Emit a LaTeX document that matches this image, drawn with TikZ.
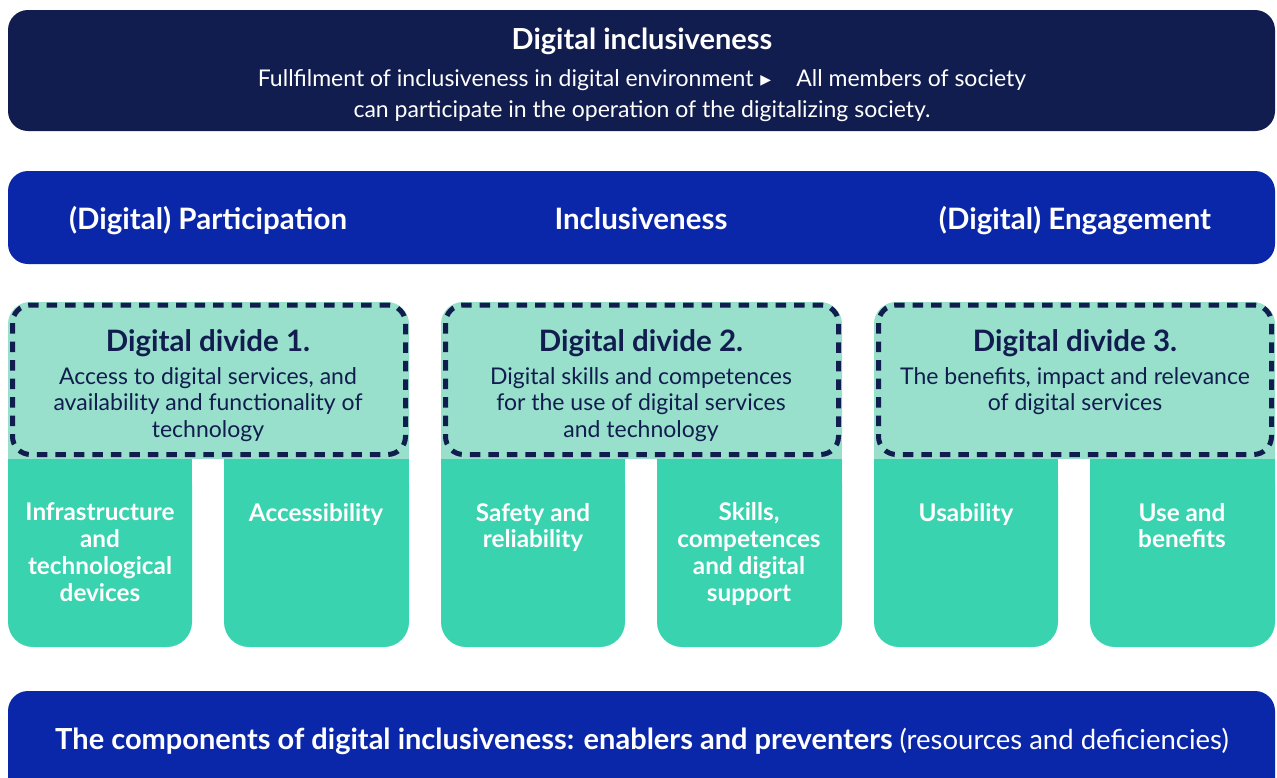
\documentclass[tikz,border=0pt]{standalone}
\usepackage{fontspec}
\setmainfont{Lato}
\newfontfamily\symfont{DejaVu Sans}
\definecolor{cNavy}{HTML}{121D4F}
\definecolor{cRoyal}{HTML}{0B27A9}
\definecolor{cMint}{HTML}{98E0CB}
\definecolor{cTeal}{HTML}{3AD3AF}
\tikzset{
  banner/.style={rounded corners=20pt},
  bigtitle/.style={text=white,font=\bfseries\fontsize{29}{34}\selectfont,inner sep=0pt,anchor=base},
  subtxt/.style={text=white,font=\fontsize{23}{31}\selectfont,inner sep=0pt,anchor=base,align=center},
  headtxt/.style={text=white,font=\bfseries\fontsize{29.5}{34}\selectfont,inner sep=0pt,anchor=base},
  bottxt/.style={text=white,font=\bfseries\fontsize{29}{34}\selectfont,inner sep=0pt,anchor=base},
  divtitle/.style={text=cNavy,font=\bfseries\fontsize{29.5}{34}\selectfont,inner sep=0pt,anchor=base},
  divtxt/.style={text=cNavy,font=\fontsize{23}{26.5}\selectfont,inner sep=0pt,anchor=base,align=center},
  coltxt/.style={text=white,font=\bfseries\fontsize{24.3}{26.7}\selectfont,inner sep=0pt,anchor=base,align=center},
  dashbox/.style={draw=cNavy,line width=5pt,dash pattern=on 10.5pt off 8pt,rounded corners=18pt},
}
\newcommand{\divgroup}[1]{%
  \begin{scope}[xshift=#1]
    \fill[cMint,rounded corners=22pt] (8,302) rectangle (409,459);
    \fill[cMint] (8,420) rectangle (409,459);
    \fill[cTeal,rounded corners=25pt] (8,459) rectangle (192,647);
    \fill[cTeal] (8,459) rectangle (192,500);
    \fill[cTeal,rounded corners=25pt] (224,459) rectangle (409,647);
    \fill[cTeal] (224,459) rectangle (409,500);
    \draw[dashbox] (12.5,305) rectangle (405.5,454.5);
  \end{scope}}
\begin{document}
\begin{tikzpicture}[x=1pt,y=-1pt]
\useasboundingbox (0,0) rectangle (1277,777);
\clip (0,0) rectangle (1277,777);
\fill[white] (0,0) rectangle (1277,777);
% top banner
\fill[cNavy,banner] (8,10) rectangle (1275,131);
\node[bigtitle] (title) at (642,49) {Digital inclusiveness};
\node[subtxt] (sub1) at (642,86) {Fullfilment of inclusiveness in digital environment\hspace{0.3em}\raisebox{2pt}{\symfont\fontsize{14}{14}\selectfont ▶}\hspace{1.1em}All members of society};
\node[subtxt] (sub2) at (642,117) {can participate in the operation of the digitalizing society.};
% second banner
\fill[cRoyal,banner] (8,171) rectangle (1275,264);
\node[headtxt] (part) at (208,229) {(Digital) Participation};
\node[headtxt] (incl) at (641,229) {Inclusiveness};
\node[headtxt] (enga) at (1075,229) {(Digital) Engagement};
% groups
\divgroup{0pt}
\divgroup{433pt}
\divgroup{866pt}
\node[divtitle] (d1) at (208,351) {Digital divide 1.};
\node[divtxt] (d1t) at (208,437) {Access to digital services, and\\availability and functionality of\\technology};
\node[divtitle] (d2) at (641,351) {Digital divide 2.};
\node[divtxt] (d2t) at (641,437) {Digital skills and competences\\for the use of digital services\\and technology};
\node[divtitle] (d3) at (1075,351) {Digital divide 3.};
\node[divtxt] (d3t) at (1075,410.5) {The benefits, impact and relevance\\of digital services};
% columns
\node[coltxt] (c1) at (100,601) {Infrastructure\\and\\technological\\devices};
\node[coltxt] (c2) at (316,521) {Accessibility};
\node[coltxt] (c3) at (533,547.7) {Safety and\\reliability};
\node[coltxt] (c4) at (749,601) {Skills,\\competences\\and digital\\support};
\node[coltxt] (c5) at (966,521) {Usability};
\node[coltxt] (c6) at (1182,547.7) {Use and\\benefits};
% bottom banner
\fill[cRoyal,banner] (8,691) rectangle (1275,800);
\node[bottxt] (bottom) at (642,749) {The components of digital inclusiveness: enablers and preventers {\mdseries\fontsize{27.5}{34}\selectfont (resources and deficiencies)}};
\end{tikzpicture}
\end{document}
